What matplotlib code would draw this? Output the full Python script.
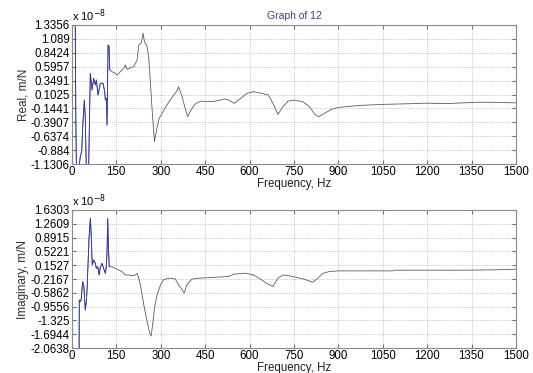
import numpy as np
import matplotlib.pyplot as plt

plt.rcParams['font.family'] = ['Liberation Sans', 'DejaVu Sans']

# frequency response, values in units of 1e-8 m/N
real_freq = [8, 11, 13, 16, 28, 33, 36, 41.8, 45, 50, 55, 62, 67.7, 73.4, 79, 82.4, 88, 95.9,
             105, 110.6, 112.9, 116.3, 118.5, 121.9, 125.3, 127.6, 135.5, 146.7, 152.4, 163.7,
             175, 180.6, 186.2, 197.5, 208.8, 220.1, 225.7, 233.7, 240.4, 244.9, 254, 259.6,
             270.9, 278.8, 285.6, 294.6, 317, 339.7, 356.7, 360, 364, 372, 381, 390.6, 401.9,
             418.8, 435.8, 452.7, 475, 497.8, 514.8, 530, 548.6, 565.5, 591, 613, 641, 664,
             679, 696, 713, 730, 752, 780, 803, 820, 834, 853, 876, 901, 972, 1050, 1140,
             1197, 1264, 1365, 1422, 1500]
real_val = [2.0, 1.5, -0.3, -1.6, -1.0, -0.9, -0.5, 0.005, -0.3, -1.6, -1.6, 0.478, 0.183, 0.39,
            0.272, 0.36, 0.094, 0.302, 0.302, 0.153, 0.005, 0.035, -0.439, 0.981, 0.951, 0.538,
            0.508, 0.478, 0.449, 0.508, 0.567, 0.626, 0.549, 0.578, 0.596, 0.715, 0.981, 1.011,
            1.188, 1.04, 0.951, 0.744, -0.172, -0.734, -0.527, -0.32, -0.113, 0.064, 0.183,
            0.24, 0.183, 0.064, -0.113, -0.29, -0.17, -0.054, -0.014, -0.02, -0.02, 0.0, 0.025,
            0.005, -0.054, 0.016, 0.123, 0.153, 0.123, 0.094, -0.054, -0.249, -0.113, -0.013,
            0.005, -0.025, -0.113, -0.249, -0.29, -0.232, -0.161, -0.125, -0.09, -0.072, -0.06,
            -0.05, -0.058, -0.035, -0.035, -0.045]

imag_freq = [24, 24.8, 28, 31, 36.1, 40, 45.1, 48.5, 51, 54.2, 57.6, 62.1, 65, 68.5, 73.4, 79,
             82.4, 87, 92, 96, 101.6, 107, 112.9, 116, 118.5, 120.8, 123, 126, 135, 146, 158,
             169, 180.6, 192, 203, 214, 220, 224, 231.4, 242.7, 254, 263, 267.5, 274, 279,
             287.8, 299, 309, 326, 349, 360, 369, 379, 388, 405, 427.5, 472.5, 529, 546, 585,
             613, 641, 657, 679, 696, 713, 747, 780, 814, 831, 848, 870, 901, 1084, 1090,
             1309, 1422, 1500]
imag_val = [-2.3, -0.779, -0.82, -0.779, -0.288, -0.4, -1.047, -0.82, -0.5, 0.158, 0.872, 1.407,
            0.96, 0.158, 0.292, 0.2, 0.069, 0.11, -0.11, 0.11, 0.2, 0.069, -0.065, 0.11, 0.5,
            1.407, 0.69, 0.11, 0.11, 0.069, 0.025, -0.02, -0.11, -0.11, -0.13, -0.11, -0.065,
            -0.15, -0.377, -0.913, -1.359, -1.672, -1.744, -1.35, -0.98, -0.645, -0.377, -0.239,
            -0.195, -0.213, -0.373, -0.462, -0.595, -0.373, -0.221, -0.195, -0.177, -0.15,
            -0.088, -0.061, -0.106, -0.239, -0.328, -0.417, -0.195, -0.106, -0.15, -0.213,
            -0.302, -0.195, -0.061, -0.017, 0.001, 0.001, 0.019, 0.019, 0.028, 0.046]

real_ticks = [1.3356, 1.089, 0.8424, 0.5957, 0.3491, 0.1025, -0.1441, -0.3907, -0.6374, -0.884, -1.1306]
imag_ticks = [1.6303, 1.2609, 0.8915, 0.5221, 0.1527, -0.2167, -0.5862, -0.9556, -1.325, -1.6944, -2.0638]
freq_ticks = list(range(0, 1501, 150))

fig = plt.figure(figsize=(5.33, 3.73), dpi=100)
ax1 = fig.add_axes([0.135, 0.560, 0.833, 0.373])
ax2 = fig.add_axes([0.135, 0.067, 0.833, 0.370])


def draw(ax, f, v, ticks, ylabel):
    f = np.array(f)
    v = np.array(v)
    ax.plot(f, v, color='#5a5a62', lw=0.6)
    low = f <= 128
    ax.plot(f[low], v[low], color='#3535b0', lw=0.6)
    ax.set_xlim(0, 1500)
    ax.set_ylim(ticks[-1], ticks[0])
    ax.set_xticks(freq_ticks)
    ax.set_yticks(ticks)
    ax.set_yticklabels([str(t) for t in ticks])
    ax.grid(True, ls=(0, (1, 1.5)), color='#b4b4b4', lw=0.6)
    ax.tick_params(direction='in', top=True, right=True, labelsize=8.3, length=3,
                   color='#707070', pad=1.5)
    for s in ax.spines.values():
        s.set_color('#8a8a8a')
        s.set_linewidth(0.8)
    ax.set_xlabel('Frequency, Hz', fontsize=8.3, labelpad=0, color='#202020')
    ax.set_ylabel(ylabel, fontsize=8.5, labelpad=1, color='#303030')
    ax.text(0.0, 1.005, r'x 10$^{-8}$', transform=ax.transAxes, fontsize=8,
            ha='left', va='bottom')


draw(ax1, real_freq, real_val, real_ticks, 'Real, m/N')
draw(ax2, imag_freq, imag_val, imag_ticks, 'Imaginary, m/N')
ax1.set_title('Graph of 12', fontsize=7.5, color='#4b3b70', pad=4)

fig.savefig('out.png', dpi=100)
